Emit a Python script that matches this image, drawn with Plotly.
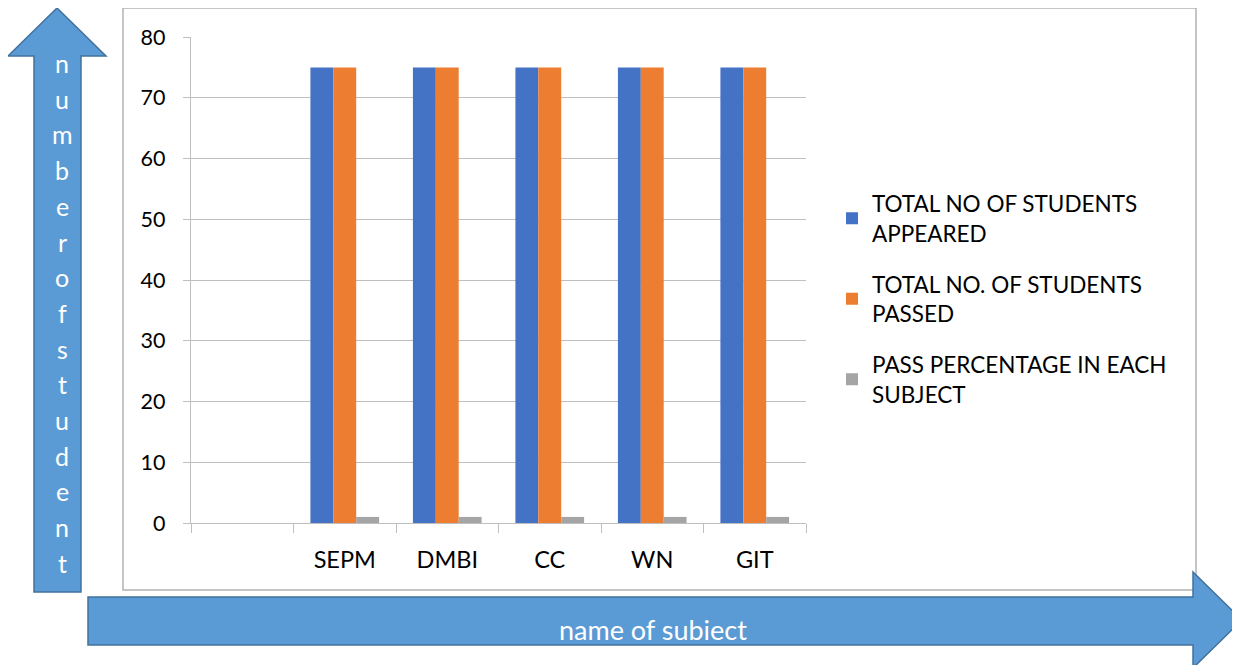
import plotly.graph_objects as go

# data
subjects = [" ", "SEPM", "DMBI", "CC", "WN", "GIT"]
appeared = [None, 75, 75, 75, 75, 75]
passed = [None, 75, 75, 75, 75, 75]
pass_pct = [None, 1, 1, 1, 1, 1]

series_names = [
    "TOTAL NO OF STUDENTS<br>APPEARED",
    "TOTAL NO. OF STUDENTS<br>PASSED",
    "PASS PERCENTAGE IN EACH<br>SUBJECT",
]
series_colors = ["#4472C4", "#ED7D31", "#A5A5A5"]

y_title = "numberofstudent"
x_title = "name of subiect"

# the page puts the figure 8px in from the top-left corner
OFF = 8
W, H = 1240 - OFF, 665 - OFF
L, R, T, B = 191 - OFF, 806 - OFF, 37 - OFF, 523 - OFF
FONT = "Lato, Carlito, Calibri, sans-serif"


# positions below are given in screen pixels of the reference
def px(x):
    return (x - OFF - L) / (R - L)


def py(y):
    return (B - (y - OFF)) / (B - T)


def path(points):
    return "M " + " L ".join(f"{px(x)},{py(y)}" for x, y in points) + " Z"


fig = go.Figure()
for name, vals, color in zip(series_names, [appeared, passed, pass_pct], series_colors):
    fig.add_trace(go.Bar(x=subjects, y=vals, name=name, marker_color=color,
                         marker_line_width=0, legendgroup=name))

up_arrow = [(57, 8), (106, 56), (81, 56), (81, 592), (34, 592), (34, 56), (8, 56)]
right_arrow = [(88, 597), (1193, 597), (1193, 572), (1242, 620), (1193, 668),
               (1193, 645), (88, 645)]

shapes = [
    dict(type="rect", xref="paper", yref="paper", x0=px(123), x1=px(1196),
         y0=py(590), y1=py(8), line=dict(color="#b3b3b3", width=1.5), layer="below"),
    dict(type="path", xref="paper", yref="paper", path=path(up_arrow),
         fillcolor="#5B9BD5", line=dict(color="#41719C", width=1.5)),
    dict(type="path", xref="paper", yref="paper", path=path(right_arrow),
         fillcolor="#5B9BD5", line=dict(color="#41719C", width=1.5)),
]

annotations = []
for i, ch in enumerate(y_title):
    annotations.append(dict(text=ch, x=px(62), y=py(63 + i * 35.7), xref="paper",
                            yref="paper", xanchor="center", yanchor="middle",
                            showarrow=False,
                            font=dict(family=FONT, size=25, color="white")))
annotations.append(dict(text=x_title, x=px(653), y=py(629), xref="paper", yref="paper",
                        xanchor="center", yanchor="middle", showarrow=False,
                        font=dict(family=FONT, size=27, color="white")))

fig.update_layout(
    width=W, height=H,
    margin=dict(l=L, r=W - R, t=T, b=H - B),
    paper_bgcolor="white", plot_bgcolor="white",
    font=dict(family=FONT, size=22, color="#000000"),
    barmode="group", bargap=0.33, bargroupgap=0,
    showlegend=True,
    legend=dict(x=px(832), y=py(299), xanchor="left", yanchor="middle",
                traceorder="grouped", tracegroupgap=19,
                font=dict(family=FONT, size=22.5, color="#000000"),
                itemwidth=30, bgcolor="rgba(0,0,0,0)"),
    shapes=shapes,
    annotations=annotations,
)
fig.update_xaxes(type="category", showline=True, linecolor="#bfbfbf", linewidth=1.3,
                 ticks="outside", tickson="boundaries", ticklen=9, tickcolor="#bfbfbf",
                 ticklabelstandoff=16, showgrid=False,
                 tickfont=dict(family=FONT, size=23.5, color="#000000"))
fig.update_yaxes(range=[0, 80], dtick=10, showline=True, linecolor="#bfbfbf", linewidth=1.3,
                 ticks="outside", ticklen=7, tickcolor="#bfbfbf", showgrid=True,
                 gridcolor="#bfbfbf", gridwidth=1, zeroline=False, ticklabelstandoff=13,
                 tickfont=dict(family=FONT, size=21.5, color="#000000"))

fig.write_html("out.html")
